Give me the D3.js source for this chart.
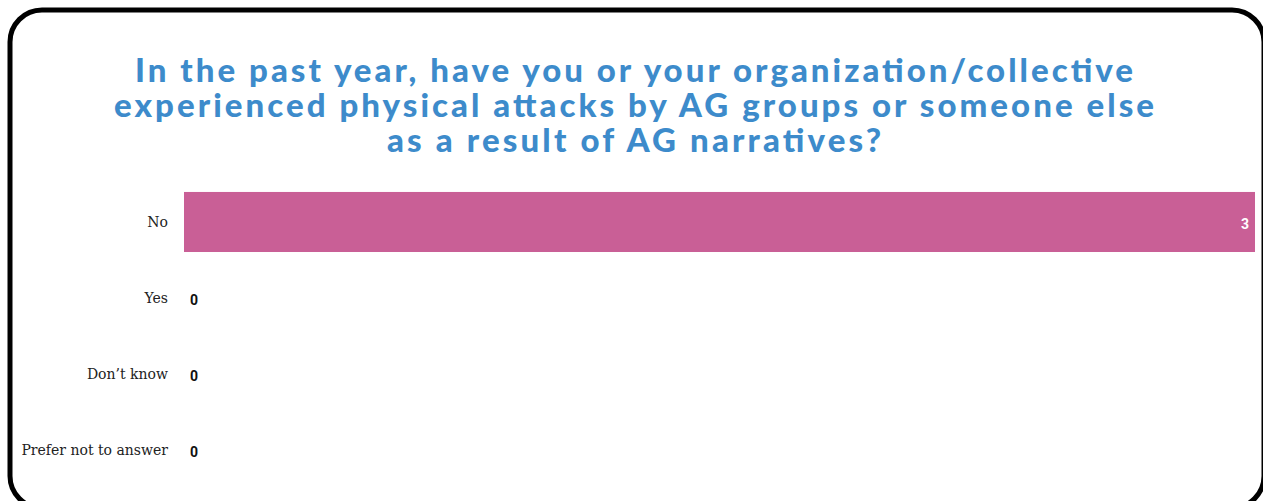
<!DOCTYPE html>
<html>
<head>
<meta charset="utf-8">
<script src="https://cdn.jsdelivr.net/npm/d3@7"></script>
<style>
  body { margin: 0; background: #fff; }
  .cat { font-family: "DejaVu Serif", "Liberation Serif", serif; font-size: 14px; fill: #222; }
  .val { font-family: Roboto, sans-serif; font-weight: bold; font-size: 14px; }
  .title { font-family: Lato, sans-serif; font-weight: 900; font-size: 33px; fill: #3d8bcb; }
</style>
</head>
<body>
<div id="chart"></div>
<script>
var svgWidth = 1263;
var svgHeight = 501;

// data
var categories = ["No", "Yes", "Don\u2019t know", "Prefer not to answer"];
var counts = [3, 0, 0, 0];
var titleLines = [
  "In the past year, have you or your organization/collective",
  "experienced physical attacks by AG groups or someone else",
  "as a result of AG narratives?"
];

var svg = d3.select("#chart")
  .append("svg")
  .attr("width", svgWidth)
  .attr("height", svgHeight);

// rounded frame (runs off the right and bottom edges)
svg.append("rect")
  .attr("x", 10)
  .attr("y", 10)
  .attr("width", 1254)
  .attr("height", 498)
  .attr("rx", 32)
  .attr("fill", "#fff")
  .attr("stroke", "#000")
  .attr("stroke-width", 5);

// title
var titleBase = [82, 117, 152];
var titleWidths = [998, 1040, 494];
svg.selectAll(".title")
  .data(titleLines)
  .enter()
  .append("text")
  .attr("class", "title")
  .attr("x", 634)
  .attr("y", (d, i) => titleBase[i])
  .attr("text-anchor", "middle")
  .attr("textLength", (d, i) => titleWidths[i])
  .attr("lengthAdjust", "spacing")
  .text(d => d);

var xScale = d3.scaleLinear()
  .domain([0, 3])
  .range([184, 1255]);

var yScale = d3.scaleBand()
  .domain(categories)
  .range([176, 496])
  .padding(0.21);

var rows = categories.map((c, i) => ({ cat: c, n: counts[i] }));

svg.selectAll(".bar")
  .data(rows)
  .enter()
  .append("rect")
  .attr("class", "bar")
  .attr("x", xScale(0))
  .attr("y", d => yScale(d.cat))
  .attr("width", d => xScale(d.n) - xScale(0))
  .attr("height", yScale.bandwidth())
  .attr("fill", "#c95f96");

// category labels
svg.selectAll(".cat")
  .data(rows)
  .enter()
  .append("text")
  .attr("class", "cat")
  .attr("x", 168)
  .attr("y", d => yScale(d.cat) + yScale.bandwidth() / 2)
  .attr("dy", "0.35em")
  .attr("text-anchor", "end")
  .text(d => d.cat);

// value labels
svg.selectAll(".val")
  .data(rows)
  .enter()
  .append("text")
  .attr("class", "val")
  .attr("x", d => d.n > 0 ? xScale(d.n) - 6 : xScale(0) + 6)
  .attr("y", d => yScale(d.cat) + yScale.bandwidth() / 2 + 2)
  .attr("dy", "0.35em")
  .attr("text-anchor", d => d.n > 0 ? "end" : "start")
  .attr("fill", d => d.n > 0 ? "#fff" : "#111")
  .text(d => d.n);
</script>
</body>
</html>
